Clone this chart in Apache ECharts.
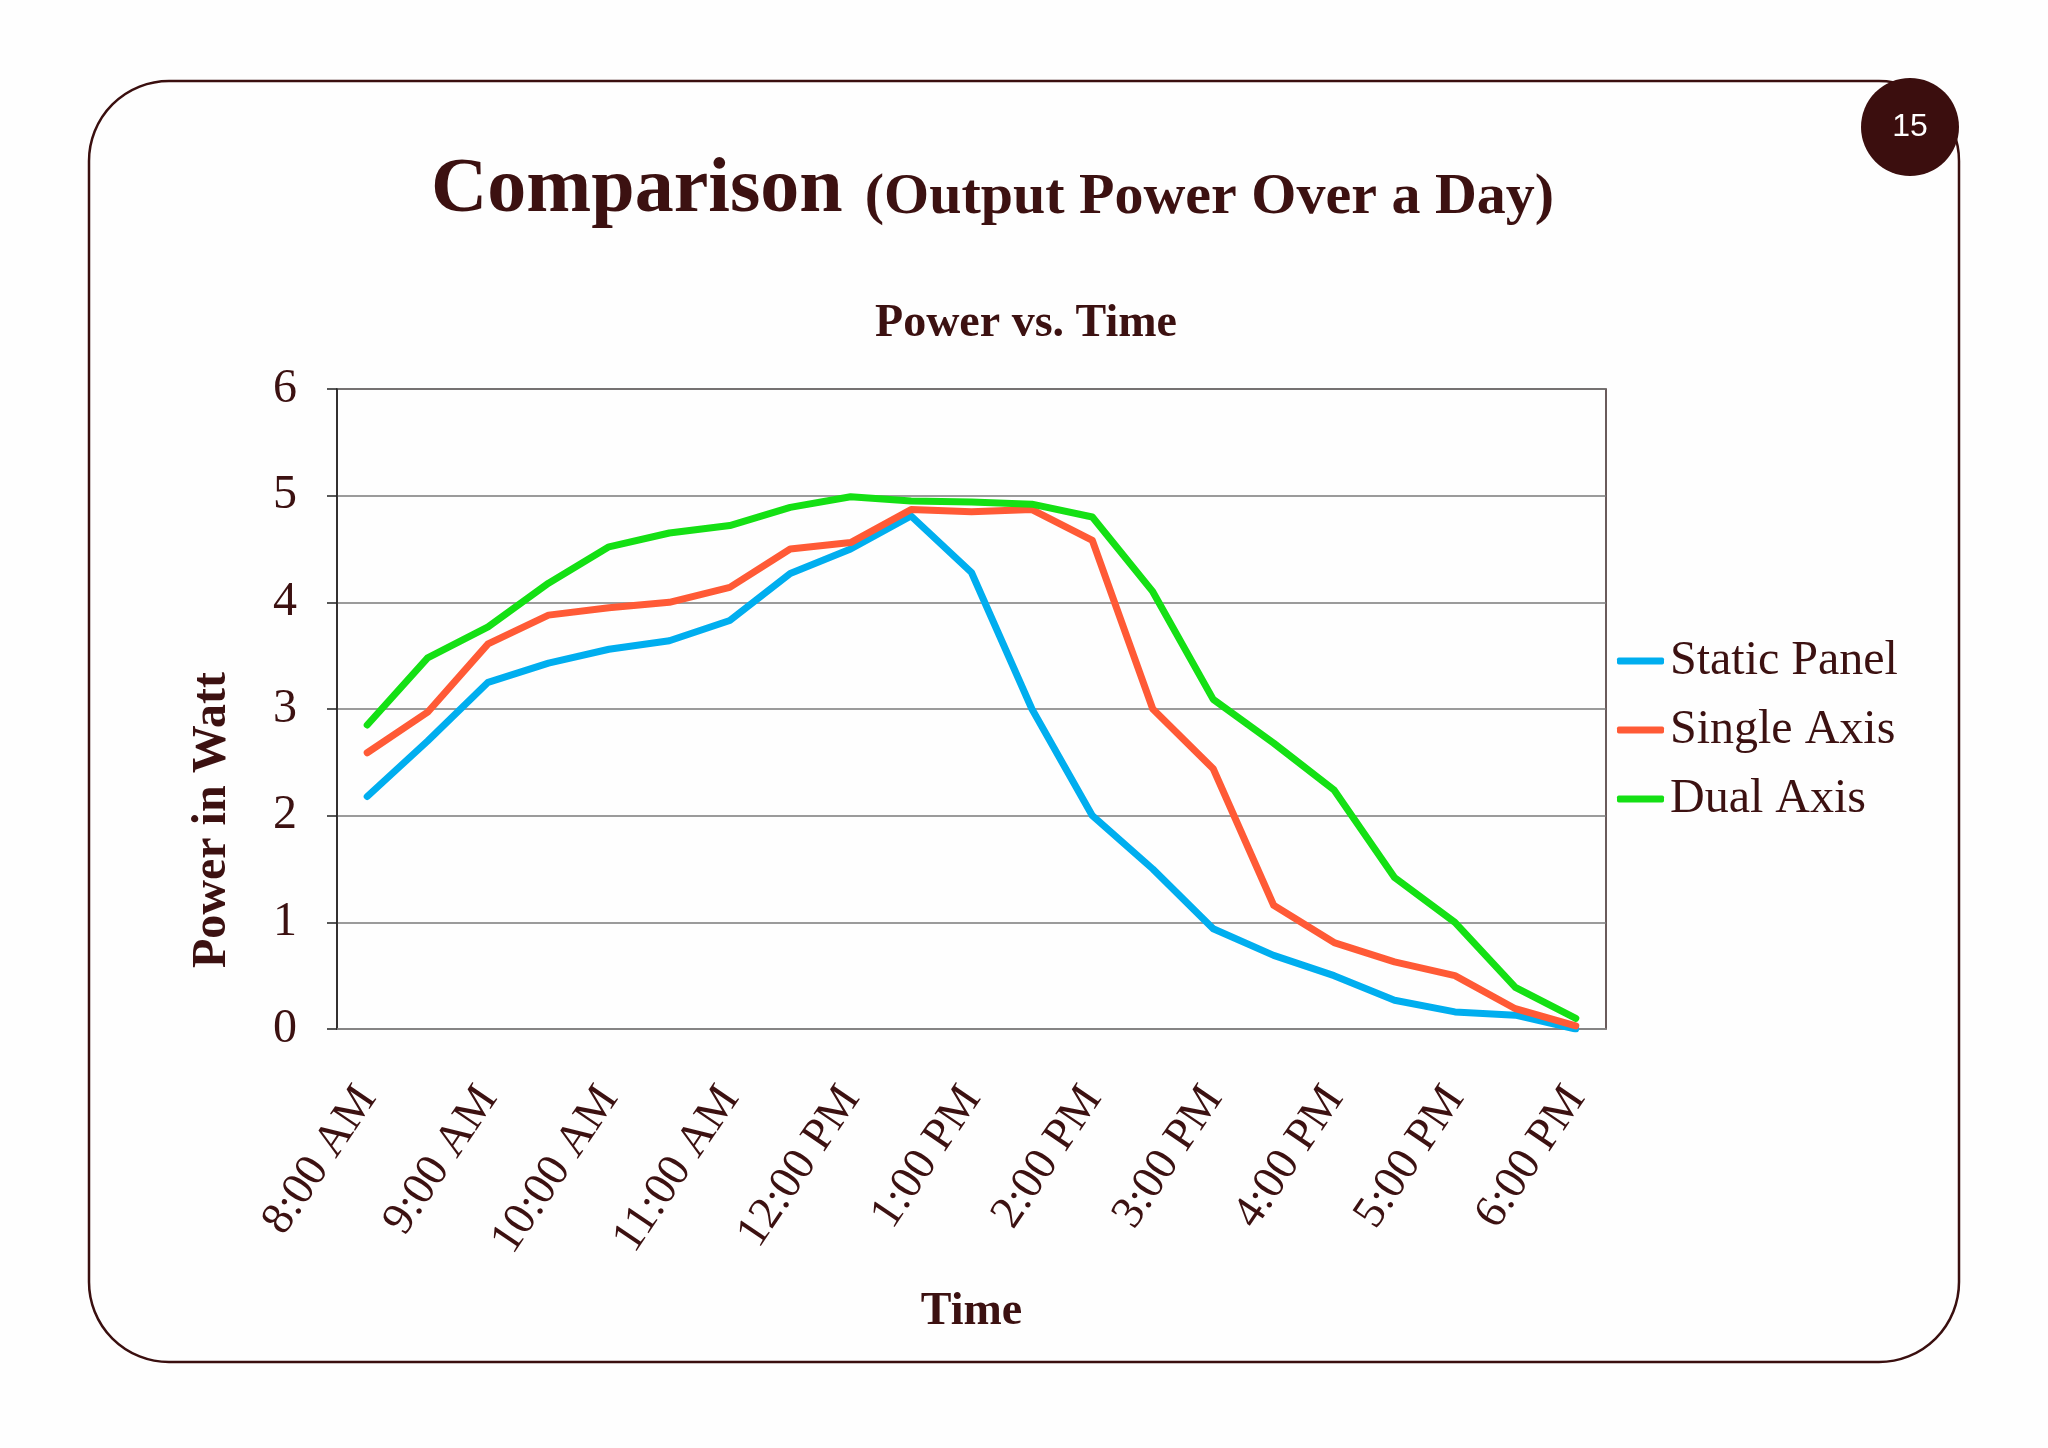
<!DOCTYPE html>
<html>
<head>
<meta charset="utf-8">
<script src="https://cdn.jsdelivr.net/npm/echarts@6/dist/echarts.min.js"></script>
<style>
  html, body { margin: 0; padding: 0; background: #fefefe; }
  #chart { width: 2048px; height: 1448px; }
</style>
</head>
<body>
<div id="chart"></div>
<script>
// half-hour samples, 8:00 AM .. 6:00 PM
const times = [
  "8:00 AM", "8:30 AM", "9:00 AM", "9:30 AM", "10:00 AM", "10:30 AM",
  "11:00 AM", "11:30 AM", "12:00 PM", "12:30 PM", "1:00 PM", "1:30 PM",
  "2:00 PM", "2:30 PM", "3:00 PM", "3:30 PM", "4:00 PM", "4:30 PM",
  "5:00 PM", "5:30 PM", "6:00 PM"
];
const staticPanel = [2.18, 2.70, 3.25, 3.43, 3.56, 3.64, 3.83, 4.27, 4.50, 4.81, 4.28, 3.00, 2.00, 1.50, 0.94, 0.69, 0.50, 0.27, 0.16, 0.13, 0.00];
const singleAxis = [2.59, 2.97, 3.61, 3.88, 3.95, 4.00, 4.14, 4.50, 4.56, 4.87, 4.85, 4.87, 4.58, 3.00, 2.44, 1.16, 0.81, 0.63, 0.50, 0.19, 0.03];
const dualAxis = [2.85, 3.48, 3.77, 4.18, 4.52, 4.65, 4.72, 4.89, 4.99, 4.95, 4.94, 4.92, 4.80, 4.10, 3.09, 2.68, 2.24, 1.42, 1.00, 0.39, 0.10];
const seriesNames = ["Static Panel", "Single Axis", "Dual Axis"];
const yTicks = [0, 1, 2, 3, 4, 5, 6];

const ink = "#3c1111";
const serif = "'Liberation Serif', 'Times New Roman', serif";

const myChart = echarts.init(document.getElementById("chart"));

const lineSeries = (name, data, color) => ({
  name: name,
  type: "line",
  data: data,
  showSymbol: false,
  symbol: "none",
  lineStyle: { width: 7, color: color, cap: "round", join: "round" },
  itemStyle: { color: color },
  z: 3
});

const option = {
  backgroundColor: "#fefefe",
  animation: false,
  title: [
    {
      text: "{a|Comparison}  {b|(Output Power Over a Day)}",
      left: 426,
      top: 147,
      textStyle: {
        rich: {
          a: { fontFamily: serif, fontWeight: "bold", fontSize: 78, color: ink },
          b: { fontFamily: serif, fontWeight: "bold", fontSize: 58, color: ink, padding: [14, 0, 0, 12] }
        }
      }
    },
    {
      text: "Power vs. Time",
      left: 1021,
      top: 296,
      textAlign: "center",
      textStyle: { fontFamily: serif, fontWeight: "bold", fontSize: 46, color: ink }
    }
  ],
  legend: {
    orient: "vertical",
    left: 1612,
    top: 632,
    icon: "roundRect",
    itemWidth: 47,
    itemHeight: 7,
    itemGap: 21,
    data: seriesNames,
    textStyle: { fontFamily: serif, fontSize: 48, color: ink, padding: [0, 0, 0, 1] }
  },
  grid: {
    left: 337,
    right: 442,
    top: 389,
    bottom: 419,
    show: true,
    borderColor: "#3a2626",
    borderWidth: 1.5
  },
  xAxis: {
    type: "category",
    data: times,
    boundaryGap: true,
    name: "Time",
    nameLocation: "middle",
    nameGap: 260,
    nameTextStyle: { fontFamily: serif, fontWeight: "bold", fontSize: 46, color: ink },
    axisLine: { lineStyle: { color: "#8a8a8a", width: 1.5 } },
    axisTick: { show: false },
    axisLabel: {
      interval: 1,
      rotate: 56,
      margin: 62,
      fontFamily: serif,
      fontSize: 46,
      color: ink
    }
  },
  yAxis: {
    type: "value",
    min: yTicks[0],
    max: yTicks[yTicks.length - 1],
    interval: 1,
    axisLine: { show: true, lineStyle: { color: "#222", width: 1.5 } },
    axisTick: { show: true, length: 10, lineStyle: { color: "#222", width: 1.5 } },
    axisLabel: { margin: 40, fontFamily: serif, fontSize: 48, color: ink },
    splitLine: { lineStyle: { color: "#7a7a7a", width: 1.5 } }
  },
  graphic: [
    {
      type: "rect",
      shape: { x: 89, y: 81, width: 1870, height: 1281, r: 80 },
      style: { fill: null, stroke: "#3a0f0f", lineWidth: 2.5 },
      z: -1
    },
    {
      type: "circle",
      shape: { cx: 1910, cy: 127, r: 49 },
      style: { fill: "#3b0e0e" },
      z: 10
    },
    {
      type: "text",
      x: 1910,
      y: 127,
      style: {
        text: "15",
        fill: "#fff",
        font: "32px 'Liberation Sans', Arial, sans-serif",
        textAlign: "center",
        textVerticalAlign: "middle"
      },
      z: 11
    },
    {
      type: "text",
      x: 213,
      y: 820,
      rotation: Math.PI / 2,
      style: {
        text: "Power in Watt",
        fill: ink,
        font: "bold 48px " + serif,
        textAlign: "center",
        textVerticalAlign: "middle"
      }
    }
  ],
  series: [
    lineSeries(seriesNames[0], staticPanel, "#00aeef"),
    lineSeries(seriesNames[1], singleAxis, "#ff5a36"),
    lineSeries(seriesNames[2], dualAxis, "#14e014")
  ]
};

option && myChart.setOption(option);

const resizeHandler = () => {
  myChart?.resize();
};
window.addEventListener("resize", resizeHandler);
</script>
</body>
</html>
